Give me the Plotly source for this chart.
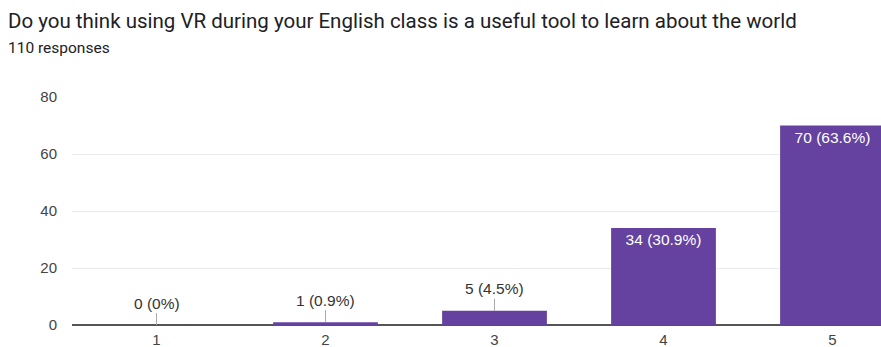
import plotly.graph_objects as go

categories = ["1", "2", "3", "4", "5"]
counts = [0, 1, 5, 34, 70]
labels = ["0 (0%)", "1 (0.9%)", "5 (4.5%)", "34 (30.9%)", "70 (63.6%)"]
inside = [False, False, False, True, True]

title = "Do you think using VR during your English class is a useful tool to learn about the world"
subtitle = "110 responses"

bar_color = "#6542a0"
FONT = "Arial, Liberation Sans, sans-serif"
TFONT = "Roboto, Arial, sans-serif"

fig = go.Figure()
fig.add_trace(go.Bar(
    x=categories, y=counts, marker=dict(color=bar_color, line=dict(width=0)),
    width=0.62,
    text=[l if ins else "" for l, ins in zip(labels, inside)],
    textposition="inside", insidetextanchor="end", textangle=0,
    textfont=dict(color="white", size=15.5, family=FONT),
    hoverinfo="skip",
))

for i, (v, l, ins) in enumerate(zip(counts, labels, inside)):
    if not ins:
        fig.add_annotation(
            x=i, y=v, text=l, showarrow=True, arrowhead=0, arrowwidth=1,
            arrowcolor="#aaaaaa", ax=0, ay=-22,
            font=dict(size=15.5, color="#333333", family=FONT),
        )

# plot area: x 72..881 (809 px), y 97..325 (228 px)
fig.add_annotation(
    x=-66/809, y=(325 - 21)/228, xref="paper", yref="paper",
    xanchor="left", yanchor="middle", text=title, showarrow=False,
    font=dict(size=20.5, color="#202124", family=TFONT),
)
fig.add_annotation(
    x=-66/809, y=(325 - 48)/228, xref="paper", yref="paper",
    xanchor="left", yanchor="middle", text=subtitle, showarrow=False,
    font=dict(size=15.5, color="#202124", family=TFONT),
)

fig.update_layout(
    width=881, height=347,
    margin=dict(l=72, r=0, t=97, b=22),
    paper_bgcolor="white", plot_bgcolor="white",
    showlegend=False,
)

fig.update_xaxes(
    range=[-0.5, 4.287], showgrid=False, zeroline=False, showline=False,
    ticks="", ticklabelstandoff=4, automargin=False,
    tickfont=dict(size=15, color="#444444", family=FONT),
    fixedrange=True,
)
fig.update_yaxes(
    range=[0, 80], tickvals=[0, 20, 40, 60, 80], showgrid=True, gridcolor="#ebebeb",
    zeroline=True, zerolinecolor="#555555", zerolinewidth=1.5, showline=False,
    ticks="", ticklabelstandoff=14, automargin=False,
    tickfont=dict(size=15, color="#444444", family=FONT),
    fixedrange=True,
)

fig.write_html("out.html")
